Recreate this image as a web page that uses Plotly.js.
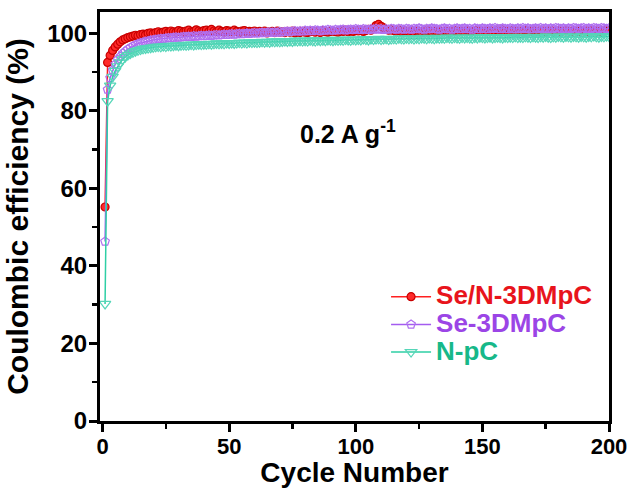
<!DOCTYPE html>
<html>
<head>
<meta charset="utf-8">
<script src="https://cdn.plot.ly/plotly-3.0.1.min.js"></script>
<style>html,body{margin:0;padding:0;background:#fff;}#chart{width:632px;height:488px;}</style>
</head>
<body>
<div id="chart"></div>
<script>
const seriesNames = ["Se/N-3DMpC", "Se-3DMpC", "N-pC"];
const xTickVals = [0, 50, 100, 150, 200];
const yTickVals = [0, 20, 40, 60, 80, 100];

const seN3DMpC = [
  55.2, 92.5, 94.3, 95.6, 96.5, 97.2, 97.8, 98.3, 98.6, 98.9,
  99.1, 99.3, 99.5, 99.4, 99.7, 99.8, 99.6, 100.0, 100.1, 99.9,
  100.2, 100.4, 100.1, 100.3, 100.5, 100.2, 100.6, 100.4, 100.3, 100.7,
  100.5, 100.3, 100.6, 100.8, 100.4, 100.5, 100.9, 100.6, 100.4, 100.7,
  100.8, 100.5, 101.0, 100.6, 100.4, 100.8, 100.5, 100.3, 100.7, 100.6,
  100.4, 100.8, 100.5, 100.2, 100.6, 100.7, 100.3, 100.5, 100.4, 100.6,
  100.2, 100.5, 100.3, 100.6, 100.1, 100.4, 100.5, 100.2, 100.6, 100.3,
  100.4, 100.2, 100.5, 100.3, 100.6, 100.1, 100.4, 100.2, 100.5, 100.3,
  100.2, 100.4, 100.6, 100.3, 100.5, 100.2, 100.7, 100.4, 100.3, 100.5,
  100.6, 100.4, 100.3, 100.7, 100.5, 100.8, 100.4, 100.6, 100.5, 100.7,
  100.6, 100.9, 100.5, 100.7, 101.0, 100.8, 101.2, 102.0, 102.3, 101.8,
  101.4, 101.0, 100.8, 100.9, 100.7, 100.6, 100.8, 100.5, 100.7, 100.6,
  100.5, 100.7, 100.4, 100.6, 100.5, 100.3, 100.6, 100.8, 100.5, 100.4,
  100.6, 100.5, 100.7, 100.4, 100.6, 100.5, 100.3, 100.6, 100.7, 100.5,
  100.4, 100.6, 100.5, 100.8, 100.6, 100.4, 100.5, 100.7, 100.6, 100.5,
  100.6, 100.4, 100.7, 100.5, 100.6, 100.8, 101.1, 100.7, 100.5, 100.6,
  100.5, 100.7, 100.6, 100.4, 100.6, 100.5, 100.7, 100.6, 100.5, 100.8,
  100.6, 100.5, 100.7, 100.6, 100.4, 100.6, 100.7, 100.5, 100.6, 100.7,
  100.5, 100.6, 100.8, 100.6, 100.5, 100.7, 100.6, 100.5, 100.7, 100.6,
  100.5, 100.7, 100.6, 100.8, 100.6, 100.5, 100.7, 100.6, 100.8, 100.7
];

const se3DMpC = [
  46.3, 85.5, 88.5, 90.5, 92.0, 93.2, 94.0, 94.8, 95.4, 95.9,
  96.3, 96.7, 97.0, 97.3, 97.5, 97.7, 97.9, 98.0, 98.2, 98.3,
  98.4, 98.5, 98.6, 98.6, 98.7, 98.8, 98.8, 98.9, 99.0, 98.9,
  99.0, 99.1, 99.1, 99.2, 99.1, 99.3, 99.2, 99.3, 99.4, 99.3,
  99.4, 99.5, 99.4, 99.5, 99.6, 99.5, 99.6, 99.7, 99.6, 99.7,
  99.8, 99.7, 99.8, 99.9, 99.8, 99.9, 100.0, 99.9, 100.0, 100.1,
  100.0, 100.1, 100.2, 100.1, 100.2, 100.3, 100.2, 100.3, 100.2, 100.4,
  100.3, 100.4, 100.5, 100.4, 100.5, 100.6, 100.5, 100.6, 100.5, 100.7,
  100.6, 100.7, 100.6, 100.8, 100.7, 100.6, 100.8, 100.7, 100.9, 100.8,
  100.7, 100.9, 100.8, 100.9, 101.0, 100.8, 100.9, 101.0, 100.9, 101.1,
  101.0, 100.9, 101.1, 101.0, 100.9, 101.1, 101.0, 101.2, 101.0, 101.1,
  100.9, 101.1, 101.0, 101.2, 101.1, 101.0, 101.2, 101.1, 101.0, 101.2,
  101.1, 101.0, 101.2, 101.1, 101.3, 101.1, 101.0, 101.2, 101.1, 101.3,
  101.2, 101.1, 101.0, 101.2, 101.3, 101.1, 101.2, 101.0, 101.2, 101.3,
  101.1, 101.2, 101.3, 101.1, 101.2, 101.0, 101.3, 101.2, 101.1, 101.3,
  101.2, 101.1, 101.3, 101.2, 101.4, 101.2, 101.1, 101.3, 101.2, 101.1,
  101.3, 101.2, 101.1, 101.3, 101.2, 101.4, 101.2, 101.3, 101.1, 101.2,
  101.3, 101.2, 101.4, 101.2, 101.3, 101.1, 101.3, 101.2, 101.4, 101.3,
  101.2, 101.3, 101.1, 101.3, 101.2, 101.4, 101.3, 101.2, 101.3, 101.4,
  101.2, 101.3, 101.2, 101.4, 101.3, 101.2, 101.4, 101.3, 101.2, 101.3
];

const npC = [
  30.2, 82.5, 86.5, 88.8, 90.3, 91.5, 92.5, 93.3, 93.9, 94.4,
  94.8, 95.1, 95.4, 95.6, 95.8, 96.0, 96.1, 96.2, 96.3, 96.4,
  96.5, 96.6, 96.5, 96.7, 96.6, 96.8, 96.7, 96.8, 96.9, 96.8,
  96.9, 97.0, 96.9, 97.0, 97.1, 97.0, 97.1, 97.2, 97.1, 97.2,
  97.2, 97.3, 97.2, 97.3, 97.4, 97.3, 97.4, 97.3, 97.5, 97.4,
  97.5, 97.4, 97.5, 97.6, 97.5, 97.6, 97.5, 97.7, 97.6, 97.7,
  97.6, 97.7, 97.8, 97.7, 97.8, 97.7, 97.9, 97.8, 97.9, 97.8,
  97.9, 98.0, 97.9, 98.0, 97.9, 98.1, 98.0, 98.1, 98.0, 98.1,
  98.0, 98.2, 98.1, 98.0, 98.2, 98.1, 98.2, 98.1, 98.3, 98.2,
  98.1, 98.3, 98.2, 98.3, 98.2, 98.4, 98.3, 98.2, 98.4, 98.3,
  98.4, 98.3, 98.5, 98.4, 98.3, 98.5, 98.4, 98.5, 98.6, 98.4,
  98.5, 98.6, 98.4, 98.5, 98.6, 98.5, 98.7, 98.6, 98.5, 98.7,
  98.6, 98.7, 98.5, 98.7, 98.6, 98.8, 98.7, 98.6, 98.8, 98.7,
  98.6, 98.8, 98.7, 98.8, 98.7, 98.9, 98.8, 98.7, 98.9, 98.8,
  98.7, 98.9, 98.8, 98.9, 98.8, 98.7, 98.9, 98.8, 99.0, 98.9,
  98.8, 98.9, 99.0, 98.8, 98.9, 99.0, 98.9, 98.8, 99.0, 98.9,
  99.0, 98.9, 99.1, 98.9, 99.0, 98.9, 99.1, 99.0, 98.9, 99.1,
  99.0, 98.9, 99.1, 99.0, 99.2, 99.0, 98.9, 99.1, 99.0, 99.2,
  99.1, 99.0, 99.2, 99.1, 99.0, 99.2, 99.1, 99.0, 99.2, 99.1,
  99.0, 99.2, 99.1, 99.3, 99.1, 99.0, 99.2, 99.1, 99.3, 99.2
];

const cycles = seN3DMpC.map((_, i) => i + 1);

const FONT = 'Arial, "Liberation Sans", sans-serif';

function legendName(label, color) {
  return '<span style="color:' + color + ';font-size:26px">' + label + '</span>';
}

const traces = [
  {
    x: cycles, y: seN3DMpC, name: legendName(seriesNames[0], '#e8141c'),
    mode: 'lines+markers', type: 'scatter',
    line: {color: '#ff2020', width: 1.5},
    marker: {symbol: 'circle', size: 8, color: '#ff2a2a', line: {color: '#c80000', width: 1.2}}
  },
  {
    x: cycles, y: se3DMpC, name: legendName(seriesNames[1], '#9b45e6'),
    mode: 'lines+markers', type: 'scatter',
    line: {color: '#a45cf0', width: 1.5},
    marker: {symbol: 'pentagon-open', size: 9, color: '#b070f0', line: {width: 1.2}}
  },
  {
    x: cycles, y: npC, name: legendName(seriesNames[2], '#17b889'),
    mode: 'lines+markers', type: 'scatter',
    line: {color: '#2ecfa5', width: 1.5},
    marker: {symbol: 'triangle-down-open', size: 10, color: '#55d6b8', line: {width: 1.2}}
  }
];

const axisCommon = {
  showline: true, linecolor: '#000', linewidth: 3, mirror: true,
  ticks: 'outside', ticklen: 8, tickwidth: 3, tickcolor: '#000',
  showgrid: false, zeroline: false,
  tickfont: {family: FONT, size: 24, color: '#000', weight: 'bold'}
};

const layout = {
  width: 632, height: 488,
  margin: {l: 100, r: 23, t: 12, b: 67},
  paper_bgcolor: '#fff', plot_bgcolor: '#fff',
  showlegend: true,
  legend: {
    x: 0.562, y: 0.35, xanchor: 'left', yanchor: 'top',
    bgcolor: 'rgba(0,0,0,0)', borderwidth: 0,
    font: {family: FONT, size: 19, color: '#000', weight: 'bold'},
    itemwidth: 40, tracegroupgap: 0
  },
  xaxis: Object.assign({}, axisCommon, {
    range: [-1, 200], tickvals: xTickVals, ticklabelstandoff: -4,
    tickfont: {family: FONT, size: 22, color: '#000', weight: 'bold'},
    minor: {dtick: 25, tick0: 0, ticks: 'outside', ticklen: 5, tickwidth: 2.5, tickcolor: '#000'},
    title: {text: 'Cycle Number', font: {family: FONT, size: 28, color: '#000', weight: 'bold'}, standoff: 5}
  }),
  yaxis: Object.assign({}, axisCommon, {
    range: [0, 105.5], tickvals: yTickVals, ticklabelstandoff: -3,
    minor: {dtick: 10, tick0: 0, ticks: 'outside', ticklen: 5, tickwidth: 2.5, tickcolor: '#000'},
    title: {text: 'Coulombic efficiency (%)', font: {family: FONT, size: 30, color: '#000', weight: 'bold'}, standoff: 10}
  }),
  annotations: [{
    x: 97, y: 74.5, xref: 'x', yref: 'y', showarrow: false,
    text: '0.2 A g<sup>-1</sup>',
    font: {family: FONT, size: 25, color: '#000', weight: 'bold'}
  }]
};

Plotly.newPlot('chart', traces, layout, {displayModeBar: false, staticPlot: true});
</script>
</body>
</html>
